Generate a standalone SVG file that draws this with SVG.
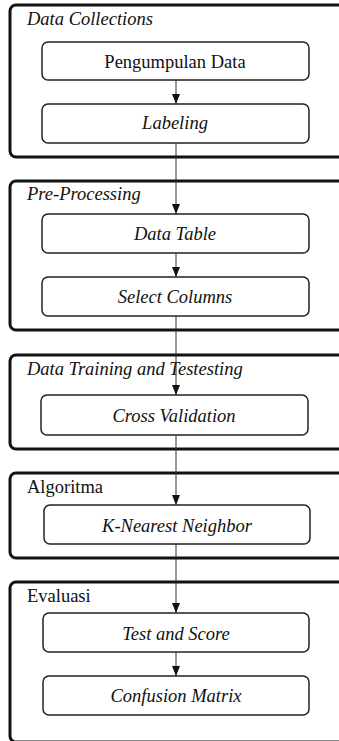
<svg xmlns="http://www.w3.org/2000/svg" width="339" height="741" viewBox="0 0 339 741">
<style>
.outer{fill:none;stroke:#111;stroke-width:3}
.inner{fill:#fff;stroke:#222;stroke-width:1.5}
.t{font-family:"Liberation Serif","Times New Roman",serif;font-size:18.5px;fill:#111;text-anchor:middle}
.h{font-family:"Liberation Serif","Times New Roman",serif;font-size:18.5px;fill:#111}
.i{font-style:italic}
.c{stroke:#333;stroke-width:1;fill:none}
</style>
<defs>
<marker id="ah" viewBox="0 0 10 8" refX="10" refY="4" markerWidth="10" markerHeight="8" markerUnits="userSpaceOnUse" orient="auto">
<path d="M0,0 L10,4 L0,8 Z" fill="#111"/>
</marker>
</defs>
<rect x="0" y="0" width="339" height="741" fill="#fff"/>
<g id="grp-collections">
<rect class="outer" x="10" y="5" width="340" height="152" rx="6"/>
<text class="h i" x="27" y="25">Data Collections</text>
</g>
<g id="grp-preprocessing">
<rect class="outer" x="10" y="181" width="340" height="149" rx="6"/>
<text class="h i" x="27" y="200">Pre-Processing</text>
</g>
<g id="grp-training">
<rect class="outer" x="10" y="355" width="340" height="94" rx="6"/>
<text class="h i" x="27" y="375">Data Training and Testesting</text>
</g>
<g id="grp-algoritma">
<rect class="outer" x="10" y="473" width="340" height="85" rx="6"/>
<text class="h" x="27" y="493">Algoritma</text>
</g>
<g id="grp-evaluasi">
<rect class="outer" x="10" y="582" width="340" height="160" rx="6"/>
<text class="h" x="27" y="602">Evaluasi</text>
</g>
<g id="connectors">
<line class="c" x1="176" y1="80" x2="176" y2="104" marker-end="url(#ah)"/>
<line class="c" x1="176" y1="143" x2="176" y2="214" marker-end="url(#ah)"/>
<line class="c" x1="176" y1="253" x2="176" y2="277" marker-end="url(#ah)"/>
<line class="c" x1="176" y1="316" x2="176" y2="395" marker-end="url(#ah)"/>
<line class="c" x1="176" y1="435" x2="176" y2="505" marker-end="url(#ah)"/>
<line class="c" x1="176" y1="544" x2="176" y2="613" marker-end="url(#ah)"/>
<line class="c" x1="176" y1="652" x2="176" y2="676" marker-end="url(#ah)"/>
</g>
<g id="n-pengumpulan">
<rect class="inner" x="42" y="42" width="267" height="38" rx="6"/>
<text class="t" x="175" y="68">Pengumpulan Data</text>
</g>
<g id="n-labeling">
<rect class="inner" x="42" y="104" width="267" height="39" rx="6"/>
<text class="t i" x="175" y="129">Labeling</text>
</g>
<g id="n-datatable">
<rect class="inner" x="42" y="214" width="267" height="39" rx="6"/>
<text class="t i" x="175" y="240">Data Table</text>
</g>
<g id="n-selectcolumns">
<rect class="inner" x="42" y="277" width="267" height="39" rx="6"/>
<text class="t i" x="175" y="303">Select Columns</text>
</g>
<g id="n-crossvalidation">
<rect class="inner" x="41" y="395" width="267" height="40" rx="6"/>
<text class="t i" x="174" y="422">Cross Validation</text>
</g>
<g id="n-knn">
<rect class="inner" x="44" y="505" width="266" height="39" rx="6"/>
<text class="t i" x="177" y="532">K-Nearest Neighbor</text>
</g>
<g id="n-testscore">
<rect class="inner" x="43" y="613" width="266" height="39" rx="6"/>
<text class="t i" x="176" y="640">Test and Score</text>
</g>
<g id="n-confusion">
<rect class="inner" x="43" y="676" width="266" height="39" rx="6"/>
<text class="t i" x="176" y="702">Confusion Matrix</text>
</g>
</svg>
